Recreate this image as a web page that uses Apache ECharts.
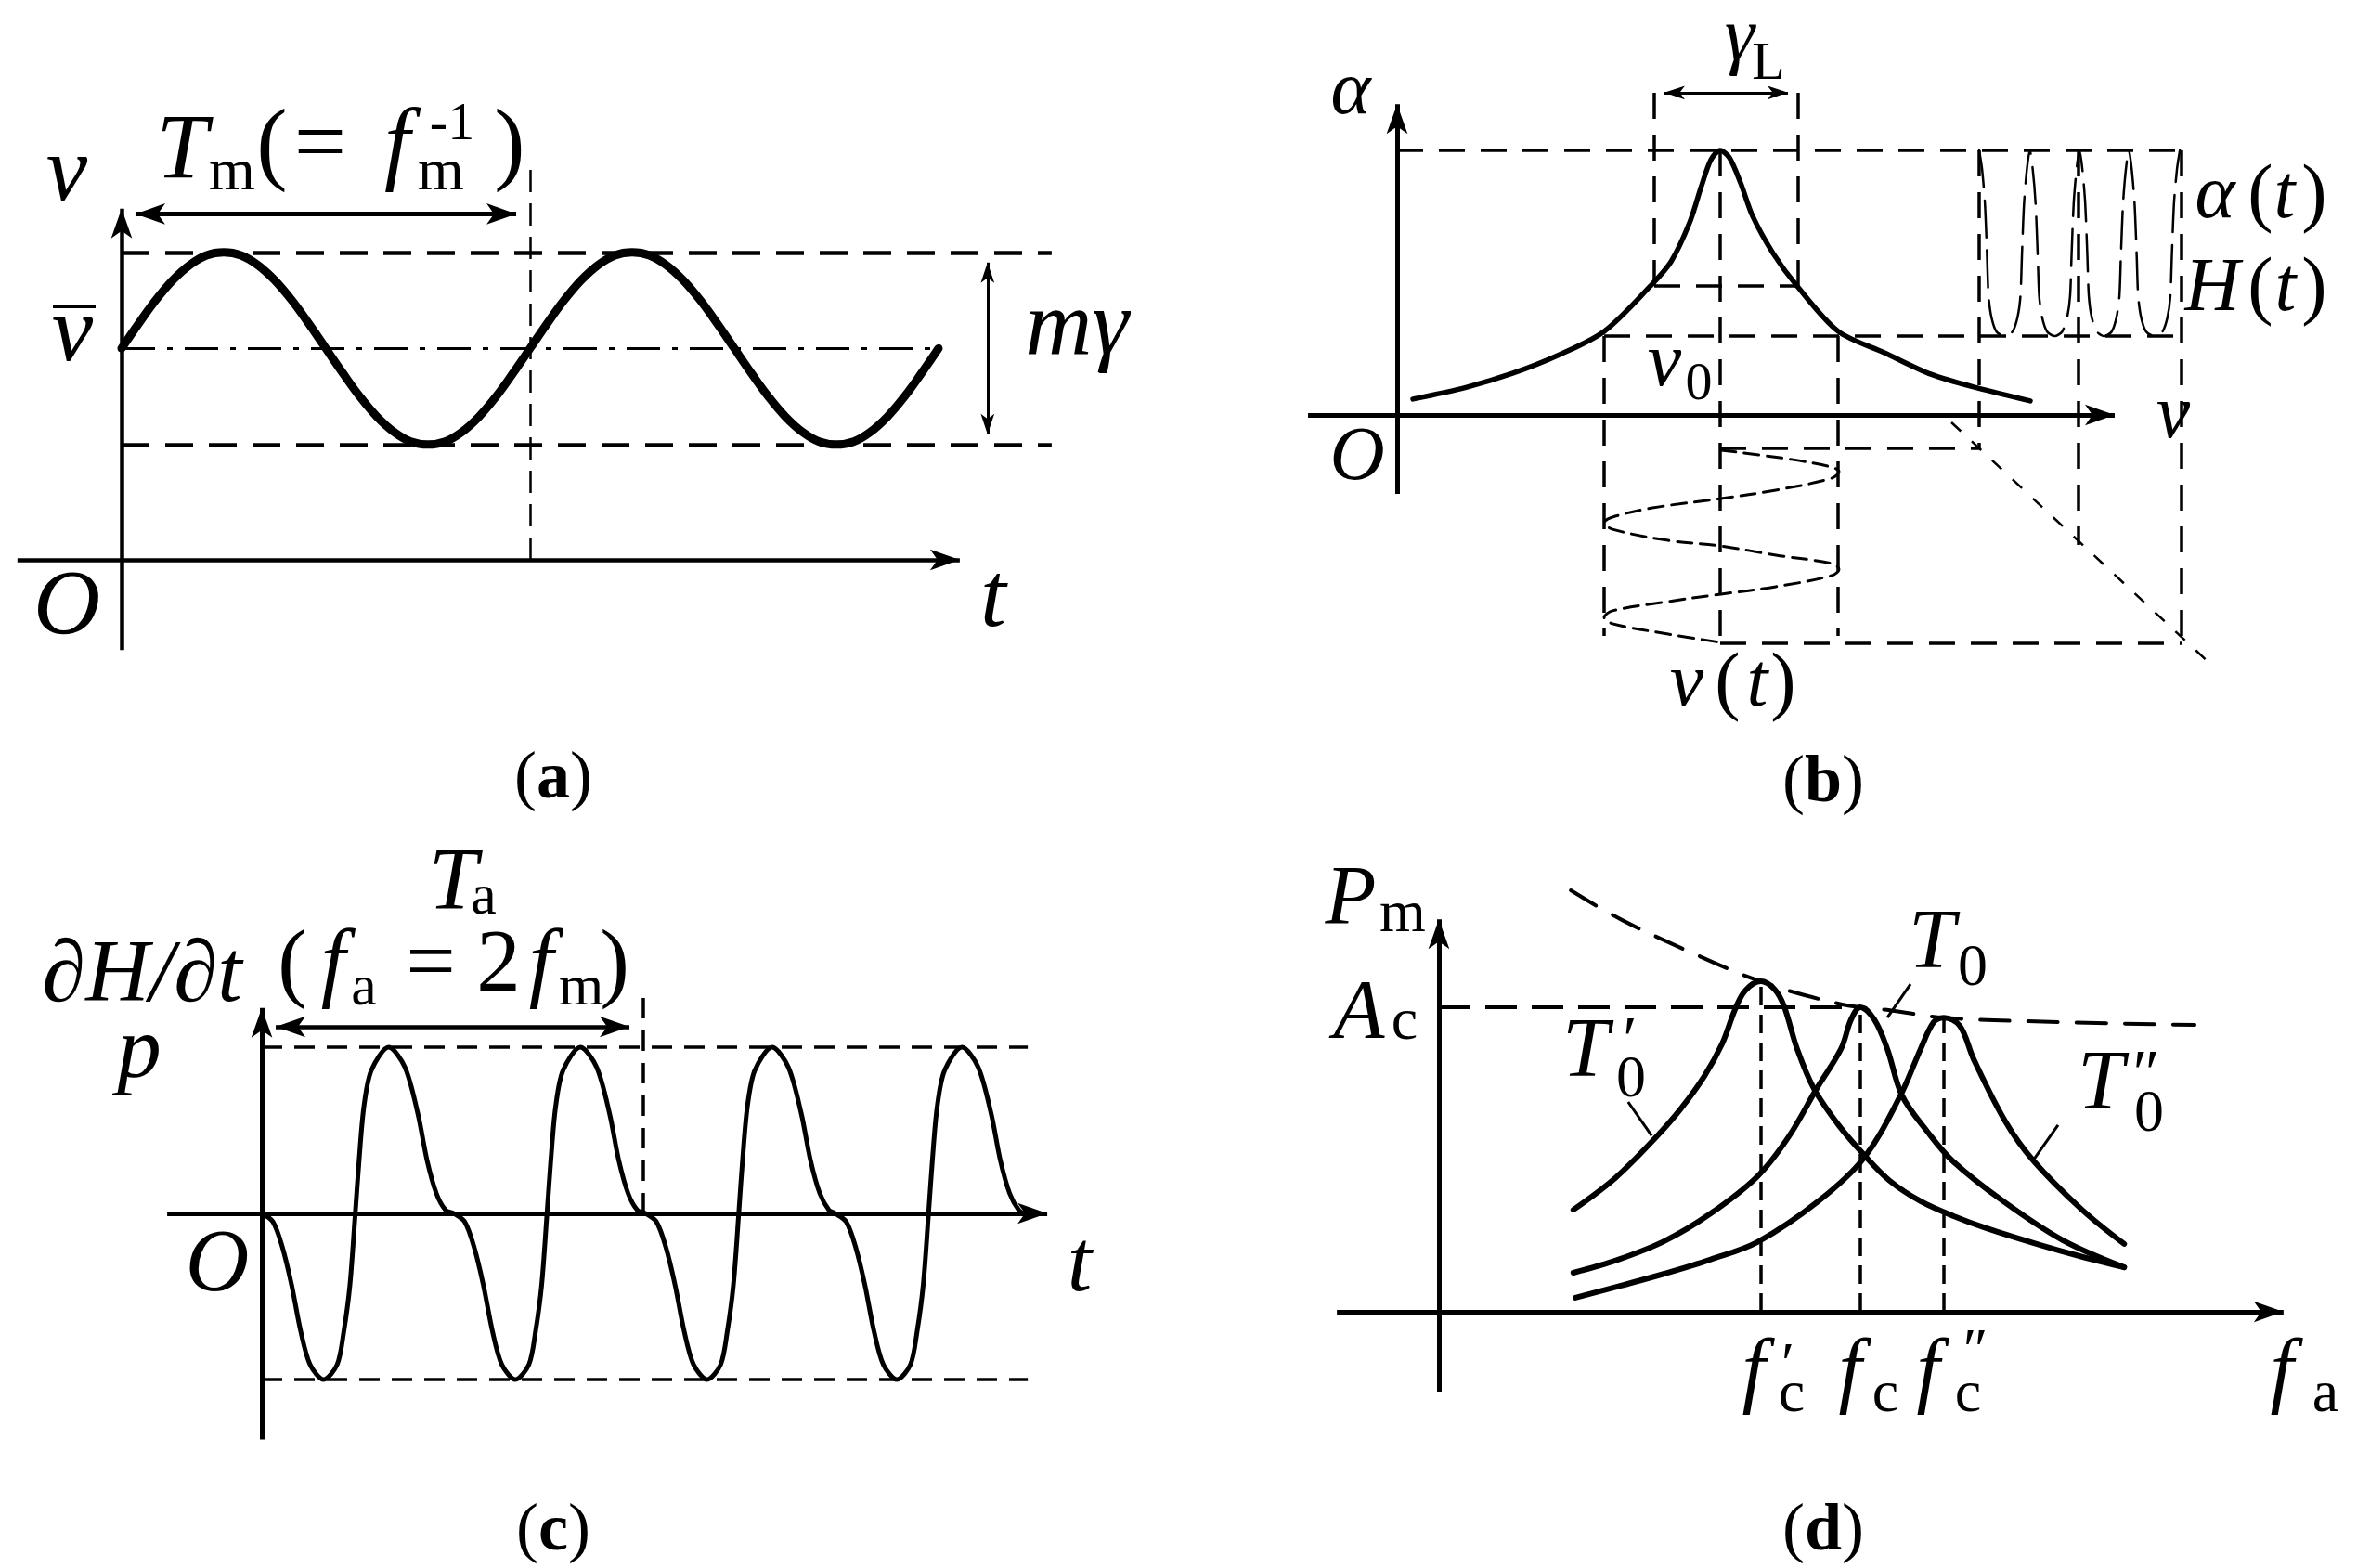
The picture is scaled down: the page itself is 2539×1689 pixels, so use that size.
<!DOCTYPE html>
<html>
<head>
<meta charset="utf-8">
<script src="https://cdn.jsdelivr.net/npm/echarts@6.0.0/dist/echarts.min.js"></script>
<style>
  html, body { margin: 0; padding: 0; background: #fff; }
  #main { width: 2539px; height: 1689px; }
</style>
</head>
<body>
<div id="main"></div>
<script>
// ---------- (a) frequency modulation nu(t), t in units of T_m, nu in units of the swing ----------
var aTime = [0, 0.042, 0.083, 0.125, 0.167, 0.208, 0.25, 0.292, 0.333, 0.375, 0.417, 0.458,
             0.5, 0.542, 0.583, 0.625, 0.667, 0.708, 0.75, 0.792, 0.833, 0.875, 0.917, 0.958,
             1, 1.042, 1.083, 1.125, 1.167, 1.208, 1.25, 1.292, 1.333, 1.375, 1.417, 1.458,
             1.5, 1.542, 1.583, 1.625, 1.667, 1.708, 1.75, 1.792, 1.833, 1.875, 1.917, 1.958, 2.0];
var aNu   = [2.2, 2.46, 2.7, 2.91, 3.07, 3.17, 3.2, 3.17, 3.07, 2.91, 2.7, 2.46,
             2.2, 1.94, 1.7, 1.49, 1.33, 1.23, 1.2, 1.23, 1.33, 1.49, 1.7, 1.94,
             2.2, 2.46, 2.7, 2.91, 3.07, 3.17, 3.2, 3.17, 3.07, 2.91, 2.7, 2.46,
             2.2, 1.94, 1.7, 1.49, 1.33, 1.23, 1.2, 1.23, 1.33, 1.49, 1.7, 1.94, 2.2];
var aLevels = [3.2, 2.2, 1.2];          // max, mean, min
var aPeriod = 1;                         // T_m
var aAxisX = [-0.255, 2.052];
var aAxisY = [-0.94, 3.655];

// ---------- (b) Lorentz line and its projections ----------
var bLine = [[0.11, 0.06], [0.484, 0.105], [0.806, 0.158], [1.129, 0.228], [1.439, 0.316],
  [1.761, 0.488], [1.903, 0.579], [2.032, 0.726], [2.116, 0.867], [2.181, 0.965], [2.245, 1.0],
  [2.31, 0.972], [2.387, 0.877], [2.471, 0.751], [2.613, 0.611], [2.774, 0.491], [3.065, 0.316],
  [3.387, 0.235], [3.71, 0.154], [4.032, 0.102], [4.4, 0.053]];
var bNuT = [[2.252, -0.133], [2.742, -0.168], [3.019, -0.197], [3.071, -0.214], [3.019, -0.239],
  [2.632, -0.284], [2.252, -0.316], [1.774, -0.351], [1.497, -0.386], [1.439, -0.407],
  [1.497, -0.432], [1.884, -0.474], [2.252, -0.495], [2.632, -0.53], [3.019, -0.561],
  [3.071, -0.583], [3.019, -0.607], [2.632, -0.649], [2.252, -0.677], [1.884, -0.705],
  [1.497, -0.74], [1.439, -0.765], [1.497, -0.789], [1.884, -0.828], [2.252, -0.86]];
var bAlphaT = [[4.045, 1], [4.065, 0.93], [4.085, 0.8], [4.1, 0.6], [4.11, 0.45], [4.13, 0.37],
  [4.165, 0.315], [4.221, 0.298], [4.277, 0.315], [4.312, 0.37], [4.332, 0.45], [4.342, 0.6],
  [4.357, 0.8], [4.377, 0.93], [4.397, 1],
  [4.417, 0.93], [4.437, 0.8], [4.452, 0.6], [4.462, 0.45], [4.482, 0.37], [4.517, 0.315],
  [4.57, 0.298], [4.622, 0.315], [4.657, 0.37], [4.677, 0.45], [4.687, 0.6], [4.702, 0.8],
  [4.722, 0.93], [4.742, 1],
  [4.762, 0.93], [4.782, 0.8], [4.797, 0.6], [4.807, 0.45], [4.827, 0.37], [4.862, 0.315],
  [4.914, 0.298], [4.966, 0.315], [5.0, 0.37], [5.02, 0.45], [5.03, 0.6], [5.045, 0.8],
  [5.065, 0.93], [5.085, 1],
  [5.105, 0.93], [5.125, 0.8], [5.14, 0.6], [5.15, 0.45], [5.17, 0.37], [5.205, 0.315],
  [5.262, 0.298], [5.319, 0.315], [5.354, 0.37], [5.374, 0.45], [5.384, 0.6], [5.399, 0.8],
  [5.42, 0.93], [5.44, 1]];
var bNu0 = 2.245;
var bHalfX = [1.787, 2.787];   var bHalfY = 0.488;   // gamma_L
var bSwingX = [1.439, 3.065];  var bSwingY = 0.298;  // nu(t) extremes
var bBoxX = [4.045, 4.735, 5.452];
var bTimeY = [-0.126, -0.491, -0.863];
var bDiag = [[3.852, -0.028], [5.658, -0.944]];
var bAxisX = [-0.619, 4.987];
var bAxisY = [-0.298, 1.175];

// ---------- (c) dH/dt signal, t in units of half T_a ----------
var cSignal = [
  [0, 0], [0.058, -0.05], [0.107, -0.2], [0.156, -0.43], [0.204, -0.71], [0.253, -0.91], [0.324, -1],
  [0.395, -0.91], [0.43, -0.71], [0.462, -0.43], [0.49, 0], [0.51, 0.32], [0.535, 0.64], [0.574, 0.86],
  [0.665, 1], [0.75, 0.88], [0.818, 0.6], [0.866, 0.32], [0.915, 0.12], [0.963, 0.02],
  [1.005, 0], [1.063, -0.05], [1.112, -0.2], [1.161, -0.43], [1.209, -0.71], [1.258, -0.91], [1.329, -1],
  [1.4, -0.91], [1.435, -0.71], [1.467, -0.43], [1.495, 0], [1.515, 0.32], [1.54, 0.64], [1.579, 0.86],
  [1.67, 1], [1.755, 0.88], [1.823, 0.6], [1.871, 0.32], [1.92, 0.12], [1.968, 0.02],
  [2.01, 0], [2.068, -0.05], [2.117, -0.2], [2.166, -0.43], [2.214, -0.71], [2.263, -0.91], [2.334, -1],
  [2.405, -0.91], [2.44, -0.71], [2.472, -0.43], [2.5, 0], [2.52, 0.32], [2.545, 0.64], [2.584, 0.86],
  [2.675, 1], [2.76, 0.88], [2.828, 0.6], [2.876, 0.32], [2.925, 0.12], [2.973, 0.02],
  [3.005, 0], [3.063, -0.05], [3.112, -0.2], [3.161, -0.43], [3.209, -0.71], [3.258, -0.91], [3.329, -1],
  [3.4, -0.91], [3.435, -0.71], [3.467, -0.43], [3.495, 0], [3.515, 0.32], [3.54, 0.64], [3.579, 0.86],
  [3.67, 1], [3.755, 0.88], [3.823, 0.6], [3.871, 0.32], [3.92, 0.12], [3.968, 0.02], [4.0, 0], [4.02, 0]];
var cLevels = [1, -1];
var cTa = 2.0;
var cArrowY = 1.123;
var cAxisX = [-0.496, 4.117];
var cAxisY = [-1.36, 1.236];

// ---------- (d) P_m vs f_a for three T_0 ----------
var dPrime = [[0.319, 0.335], [0.419, 0.44], [0.513, 0.57], [0.573, 0.665], [0.63, 0.774], [0.672, 0.88],
  [0.703, 0.994], [0.727, 1.055], [0.764, 1.085], [0.797, 1.058], [0.819, 1.003], [0.85, 0.863],
  [0.89, 0.732], [0.95, 0.61], [1.009, 0.515], [1.07, 0.43], [1.143, 0.363], [1.22, 0.315],
  [1.3, 0.274], [1.425, 0.22], [1.52, 0.183], [1.626, 0.146]];
var dMain = [[0.319, 0.128], [0.425, 0.171], [0.535, 0.232], [0.645, 0.323], [0.756, 0.445], [0.83, 0.575],
  [0.896, 0.732], [0.954, 0.863], [0.978, 0.96], [1.0, 1.0], [1.033, 0.96], [1.064, 0.863],
  [1.099, 0.71], [1.16, 0.59], [1.22, 0.494], [1.339, 0.363], [1.48, 0.235], [1.626, 0.146]];
var dDouble = [[0.324, 0.046], [0.43, 0.085], [0.535, 0.125], [0.645, 0.172], [0.756, 0.229],
  [0.903, 0.366], [1.009, 0.506], [1.095, 0.71], [1.143, 0.863], [1.174, 0.951], [1.198, 0.966],
  [1.236, 0.939], [1.269, 0.829], [1.344, 0.625], [1.41, 0.497], [1.526, 0.335], [1.626, 0.223]];
var dEnvelope = [[0.313, 1.384], [0.434, 1.287], [0.608, 1.174], [0.72, 1.107], [0.764, 1.085],
  [0.828, 1.055], [0.954, 1.01], [1.0, 1.0], [1.07, 0.99], [1.198, 0.966], [1.45, 0.952], [1.793, 0.942]];
var dAc = 1.0;
var dPeaksX = [0.764, 1.0, 1.198];
var dPeaksY = [1.085, 1.0, 0.966];
var dLeaders = [[[0.449, 0.689], [0.505, 0.578]], [[1.119, 1.076], [1.064, 0.966]], [[1.469, 0.613], [1.41, 0.497]]];
var dAxisX = [-0.242, 2.004];
var dAxisY = [-0.262, 1.289];

// ---------------------------------------------------------------------------
var FONT = '"Liberation Serif", "DejaVu Serif", serif';
var BLACK = '#000';

function zip(xs, ys) { return xs.map(function (x, i) { return [x, ys[i]]; }); }

function crv(g, pts, w, dash, sm) {
  return {
    type: 'line', xAxisIndex: g, yAxisIndex: g, data: pts, symbol: 'none', showSymbol: false,
    smooth: sm || 0, clip: false, silent: true, animation: false, z: 3,
    lineStyle: { color: BLACK, width: w, type: dash || 'solid', cap: 'round', join: 'round' }
  };
}
// one straight piece for markLine, optional arrow heads
function seg(p1, p2, w, dash, heads, hs) {
  heads = heads || [0, 0];
  hs = hs || [17, 32];
  return [
    { coord: p1, symbol: heads[0] ? 'arrow' : 'none', symbolSize: hs,
      lineStyle: { color: BLACK, width: w, type: dash || 'solid', opacity: 1 } },
    { coord: p2, symbol: heads[1] ? 'arrow' : 'none', symbolSize: hs }
  ];
}
function lines(g, items) {
  return {
    type: 'line', xAxisIndex: g, yAxisIndex: g, data: [], silent: true, animation: false,
    markLine: { silent: true, animation: false, symbol: ['none', 'none'], label: { show: false },
      emphasis: { disabled: true }, data: items }
  };
}
function T(x, y, s, size, upright, bold) {
  return { type: 'text', x: x, y: y, silent: true, z: 10,
    style: { text: s, fill: BLACK,
      font: (upright ? 'normal' : 'italic') + ' ' + (bold ? 'bold' : 'normal') + ' ' + size + 'px ' + FONT,
      align: 'center', verticalAlign: 'middle', textAlign: 'center', textVerticalAlign: 'middle' } };
}
function panelTag(cx, y, letter, wLetter) {
  var s = 72, half = (wLetter + 48) / 2;
  return [T(cx - half + 12, y, '(', s, true), T(cx, y, letter, s, true, true), T(cx + half - 12, y, ')', s, true)];
}

var DASH_A = [30, 17], DASH_B = [28, 17], DASH_C = [22, 13];

var seriesList = [
  // (a)
  lines(0, [
    seg([aAxisX[0], 0], [aAxisX[1], 0], 4.5, 'solid', [0, 1]),
    seg([0, aAxisY[0]], [0, aAxisY[1]], 4.5, 'solid', [0, 1]),
    seg([0.034, 3.6], [aPeriod - 0.034, 3.6], 5, 'solid', [1, 1]),
    seg([aPeriod, 0], [aPeriod, 4.08], 2.5, [24, 12]),
    seg([0, aLevels[0]], [2.277, aLevels[0]], 4.5, DASH_A),
    seg([0, aLevels[2]], [2.277, aLevels[2]], 4.5, DASH_A),
    seg([0, aLevels[1]], [2.0, aLevels[1]], 3, [36, 13, 6, 13]),
    seg([2.12, aLevels[0] - 0.106], [2.12, aLevels[2] + 0.106], 3, 'solid', [1, 1], [11, 22])
  ]),
  crv(0, zip(aTime, aNu), 9, 'solid', 0.4),

  // (b)
  lines(1, [
    seg([bAxisX[0], 0], [bAxisX[1], 0], 5, 'solid', [0, 1]),
    seg([0, bAxisY[0]], [0, bAxisY[1]], 5, 'solid', [0, 1]),
    seg([0, 1], [bBoxX[2], 1], 3.5, DASH_B),
    seg([bHalfX[0], bHalfY], [bHalfX[0], 1.274], 3.5, DASH_B),
    seg([bHalfX[1], bHalfY], [bHalfX[1], 1.274], 3.5, DASH_B),
    seg([bHalfX[0], bHalfY], [bHalfX[1], bHalfY], 3.5, DASH_B),
    seg([bHalfX[0] + 0.071, 1.218], [bHalfX[1] - 0.071, 1.218], 3, 'solid', [1, 1], [11, 22]),
    seg([bNu0, 1], [bNu0, bTimeY[2]], 3.5, DASH_B),
    seg([bSwingX[0], bSwingY], [bBoxX[2], bSwingY], 3.5, DASH_B),
    seg([bSwingX[0], bSwingY], [bSwingX[0], -0.835], 3.5, DASH_B),
    seg([bSwingX[1], bSwingY], [bSwingX[1], -0.835], 3.5, DASH_B),
    seg([bBoxX[0], 1], [bBoxX[0], bTimeY[0]], 3.5, DASH_B),
    seg([bBoxX[1], 1], [bBoxX[1], bTimeY[1]], 3.5, DASH_B),
    seg([bBoxX[2], 1], [bBoxX[2], bTimeY[2]], 3.5, DASH_B),
    seg([bNu0, bTimeY[0]], [bBoxX[0], bTimeY[0]], 3.5, DASH_B),
    seg([bNu0, bTimeY[2]], [bBoxX[2], bTimeY[2]], 3.5, DASH_B),
    seg(bDiag[0], bDiag[1], 2.5, [14, 16])
  ]),
  crv(1, bLine, 5.5, 'solid', 0.3),
  crv(1, bNuT, 3, [16, 9], 0.35),
  crv(1, bAlphaT, 2.5, [40, 14], 0.25),

  // (c)
  lines(2, [
    seg([cAxisX[0], 0], [cAxisX[1], 0], 5, 'solid', [0, 1]),
    seg([0, cAxisY[0]], [0, cAxisY[1]], 5, 'solid', [0, 1]),
    seg([0, cLevels[0]], [4.015, cLevels[0]], 3.5, DASH_C),
    seg([0, cLevels[1]], [4.015, cLevels[1]], 3.5, DASH_C),
    seg([0.073, cArrowY], [cTa - 0.073, cArrowY], 4.5, 'solid', [1, 1]),
    seg([cTa, 0], [cTa, 1.324], 3.5, DASH_C)
  ]),
  crv(2, cSignal, 5, 'solid', 0.3),

  // (d)
  lines(3, [
    seg([dAxisX[0], 0], [dAxisX[1], 0], 5, 'solid', [0, 1]),
    seg([0, dAxisY[0]], [0, dAxisY[1]], 5, 'solid', [0, 1]),
    seg([0, dAc], [dPeaksX[1], dAc], 4, [34, 16]),
    seg([dPeaksX[0], 0], [dPeaksX[0], dPeaksY[0]], 3.5, [20, 10]),
    seg([dPeaksX[1], 0], [dPeaksX[1], dPeaksY[1]], 3.5, [20, 10]),
    seg([dPeaksX[2], 0], [dPeaksX[2], dPeaksY[2]], 3.5, [20, 10]),
    seg(dLeaders[0][0], dLeaders[0][1], 3),
    seg(dLeaders[1][0], dLeaders[1][1], 3),
    seg(dLeaders[2][0], dLeaders[2][1], 3)
  ]),
  crv(3, dEnvelope, 4, [32, 20], 0.4),
  crv(3, dPrime, 6, 'solid', 0.35),
  crv(3, dMain, 6, 'solid', 0.35),
  crv(3, dDouble, 6, 'solid', 0.35)
];

var grids = [
  { left: 7.8, top: 178.65, width: 1135.2, height: 527.85 },
  { left: 1404.25, top: 62.25, width: 992, height: 669.75 },
  { left: 169, top: 1038.5, width: 996.7, height: 528 },
  { left: 1436.5, top: 937.4, width: 1076, height: 574 }
];
var ranges = [
  [[-0.28, 2.3], [-1.0, 4.1]],
  [[-0.65, 5.75], [-1.0, 1.35]],
  [[-0.55, 4.3], [-1.45, 1.5]],
  [[-0.25, 2.12], [-0.3, 1.45]]
];

var texts = [
  // (a)
  T(72, 189, 'ν', 100), T(78, 362, 'ν', 100),
  { type: 'line', silent: true, z: 10, shape: { x1: 57, y1: 330, x2: 103, y2: 330 }, style: { stroke: BLACK, lineWidth: 4 } },
  T(72, 656, 'O', 100), T(1070, 648, 't', 100), T(1160, 355, 'mγ', 100),
  T(196, 165, 'T', 100), T(250, 187, 'm', 64, true),
  T(293, 160, '(', 100, true), T(345, 160, '=', 100, true), T(428, 160, 'f', 100),
  T(487, 135, '-1', 58, true), T(475, 187, 'm', 64, true), T(549, 160, ')', 100, true),
  // (b)
  T(1455, 100, 'α', 82), T(1874, 42, 'γ', 82), T(1905, 70, 'L', 58, true),
  T(1462, 494, 'O', 82), T(2341, 449, 'ν', 82),
  T(1793, 393, 'ν', 82), T(1830, 415, '0', 58, true),
  T(2386, 212, 'α', 82), T(2435, 212, '(', 82, true), T(2461, 212, 't', 82), T(2493, 212, ')', 82, true),
  T(2383, 312, 'H', 82), T(2435, 312, '(', 82, true), T(2462, 312, 't', 82), T(2493, 312, ')', 82, true),
  T(1817, 738, 'ν', 82), T(1861, 738, '(', 82, true), T(1893, 738, 't', 82), T(1921, 738, ')', 82, true),
  // (c)
  T(488, 954, 'T', 95), T(521, 968, 'a', 62, true),
  T(153, 1053, '∂H/∂t', 95),
  T(315, 1042, '(', 95, true), T(359, 1042, 'f', 95), T(392, 1066, 'a', 62, true),
  T(464, 1042, '=', 95, true), T(537, 1042, '2', 95, true), T(583, 1042, 'f', 95),
  T(626, 1066, 'm', 62, true), T(662, 1042, ')', 95, true),
  T(150, 1135, 'p', 95), T(234, 1365, 'O', 95), T(1163, 1365, 't', 95),
  // (d)
  T(1455, 971, 'P', 90), T(1511, 986, 'm', 64, true),
  T(1464, 1094, 'A', 90), T(1513, 1102, 'c', 64, true),
  T(1708, 1135, 'T', 90), T(1756, 1125, '′', 70, true), T(1757, 1164, '0', 64, true),
  T(2081, 1018, 'T', 90), T(2125, 1044, '0', 64, true),
  T(2263, 1170, 'T', 90), T(2312, 1161, '″', 70, true), T(2315, 1201, '0', 64, true),
  T(1889, 1481, 'f', 90), T(1926, 1473, '′', 64, true), T(1930, 1503, 'c', 64, true),
  T(1993, 1481, 'f', 90), T(2031, 1503, 'c', 64, true),
  T(2077, 1481, 'f', 90), T(2128, 1458, '″', 64, true), T(2120, 1503, 'c', 64, true),
  T(2458, 1481, 'f', 90), T(2505, 1503, 'a', 64, true)
].concat(panelTag(596, 840, 'a', 36), panelTag(1964, 844, 'b', 40),
         panelTag(596, 1650, 'c', 32), panelTag(1964, 1650, 'd', 40));

var chart = echarts.init(document.getElementById('main'), null, { renderer: 'canvas' });
chart.setOption({
  backgroundColor: '#fff',
  animation: false,
  grid: grids.map(function (g) {
    return { left: g.left, top: g.top, width: g.width, height: g.height, containLabel: false, outerBoundsMode: 'none' };
  }),
  xAxis: ranges.map(function (r, i) {
    return { type: 'value', gridIndex: i, min: r[0][0], max: r[0][1], show: false };
  }),
  yAxis: ranges.map(function (r, i) {
    return { type: 'value', gridIndex: i, min: r[1][0], max: r[1][1], show: false };
  }),
  series: seriesList,
  graphic: { elements: texts }
});
</script>
</body>
</html>
